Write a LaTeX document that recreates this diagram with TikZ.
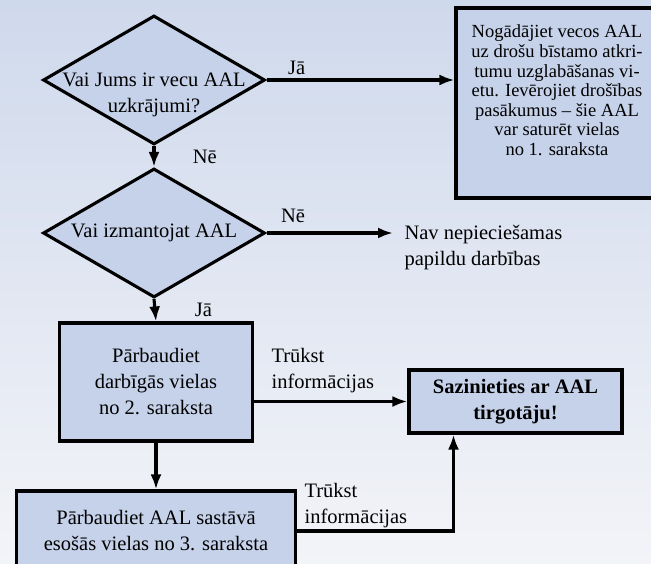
\documentclass[tikz,border=0pt]{standalone}
\usepackage{fontspec}
\setmainfont{Liberation Serif}
\usetikzlibrary{shapes.geometric}
\usetikzlibrary{positioning}
\usetikzlibrary{arrows.meta}

\definecolor{bgtop}{RGB}{207,217,236}
\definecolor{bgbottom}{RGB}{243,244,248}
\definecolor{boxfill}{RGB}{197,210,234}

\begin{document}
\begin{tikzpicture}[>={Latex[length=15pt,width=11pt]},x=1pt,y=-1pt,
	line width=3.1pt,font=\fontsize{20.5}{26}\selectfont,
	decision/.style={diamond,draw,fill=boxfill,inner sep=0pt,
		minimum width=222pt,minimum height=129pt},
	block/.style={rectangle,draw,fill=boxfill,align=center},
	answer/.style={inner sep=2pt,align=left}]
	
	\useasboundingbox (0,0) rectangle (651,564);
	\shade[top color=bgtop,bottom color=bgbottom] (0,0) rectangle (651,564);
	
	\node[decision,label={[align=center,yshift=-15pt]center:{Vai Jums ir vecu AAL\\uzkrājumi?}}] (q1) at (154,80) {};
	\node[decision,label={center:{Vai izmantojat AAL}}] (q2) [node distance=153pt,below of=q1] {};
	\node[block,minimum width=193pt,minimum height=118pt] (chk2) [node distance=149pt,below of=q2,xshift=2pt] {Pārbaudiet\\darbīgās vielas\\no 2. saraksta};
	\node[block,minimum width=279pt,minimum height=80pt] (chk3) [node distance=149pt,below of=chk2] {Pārbaudiet AAL sastāvā\\esošās vielas no 3. saraksta};
	
	\node[block,minimum width=202pt,minimum height=190pt,font=\fontsize{18.5}{19.6}\selectfont] (dispose) at (557,103) {Nogādājiet vecos AAL\\uz drošu bīstamo atkri-\\tumu uzglabāšanas vi-\\etu. Ievērojiet drošības\\pasākumus – šie AAL\\var saturēt vielas\\no 1. saraksta\\[6pt]~};
	\node[block,minimum width=213pt,minimum height=63pt] (contact) at (515.5,401.5) {\textbf{Sazinieties ar AAL}\\\textbf{tirgotāju!}};
	\node[align=left,anchor=west,inner xsep=10pt,inner ysep=0pt] (none) at (393,248) {Nav nepieciešamas\\papildu darbības};
	
	\draw[->] (q1.east) -- node[above,pos=0.16] {Jā} (q1.east -| dispose.west);
	\draw[->] (q1.south) -- node[right=34pt] {Nē} (q2.north);
	\draw[->] (q2.east) -- node[above,pos=0.21,yshift=5pt] {Nē} (q2.east -| none.west);
	\draw[->] (q2.south) -- node[right=35pt] {Jā} (chk2.north);
	\draw[->] (contact.west -| chk2.east) -- node[answer,pos=0,above right,xshift=14pt,yshift=5pt] {Trūkst\\informācijas} (contact.west);
	\draw[->] (chk2.south) -- (chk3.north);
	\draw[->] (chk3.east) -| node[answer,pos=0,above right,xshift=4pt] {Trūkst\\informācijas} ([xshift=-62pt]contact.south);
\end{tikzpicture}
\end{document}
